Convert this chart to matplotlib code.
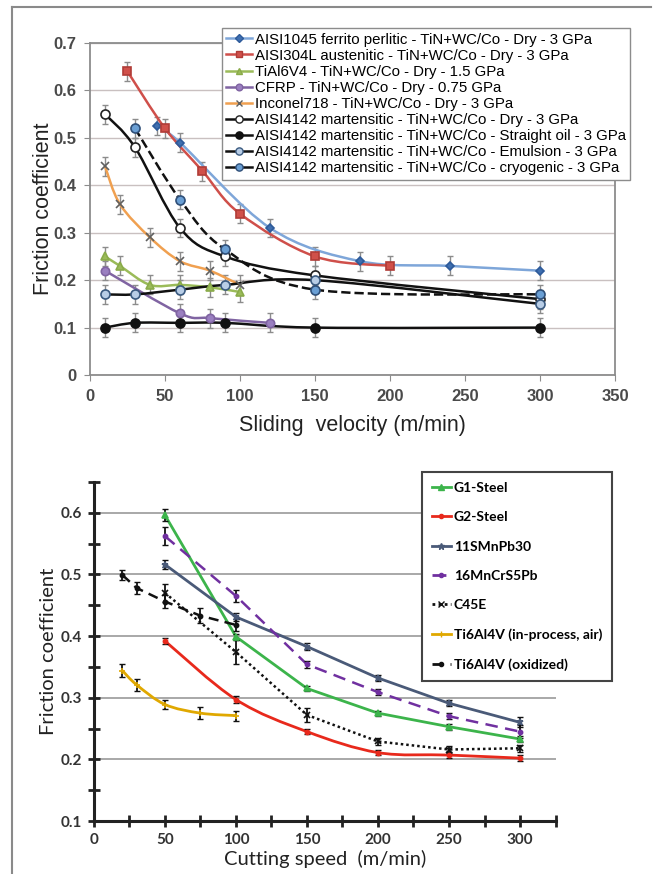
import numpy as np
import matplotlib
matplotlib.use("Agg")
import matplotlib.pyplot as plt
from matplotlib.path import Path
from matplotlib.patches import PathPatch
from matplotlib.lines import Line2D

plt.rcParams['font.family'] = ['Liberation Sans', 'DejaVu Sans']

# ---------------- top chart data (sliding velocity) ----------------
top_labels = [
    "AISI1045 ferrito perlitic - TiN+WC/Co - Dry - 3 GPa",
    "AISI304L austenitic - TiN+WC/Co - Dry - 3 GPa",
    "TiAl6V4 - TiN+WC/Co - Dry - 1.5 GPa",
    "CFRP - TiN+WC/Co - Dry - 0.75 GPa",
    "Inconel718 - TiN+WC/Co - Dry - 3 GPa",
    "AISI4142 martensitic - TiN+WC/Co - Dry - 3 GPa",
    "AISI4142 martensitic - TiN+WC/Co - Straight oil - 3 GPa",
    "AISI4142 martensitic - TiN+WC/Co - Emulsion - 3 GPa",
    "AISI4142 martensitic - TiN+WC/Co - cryogenic - 3 GPa",
]
aisi1045_v = [45, 60, 120, 180, 240, 300]
aisi1045_mu = [0.525, 0.49, 0.31, 0.24, 0.23, 0.22]
aisi304_v = [25, 50, 75, 100, 150, 200]
aisi304_mu = [0.64, 0.52, 0.43, 0.34, 0.25, 0.23]
tial_v = [10, 20, 40, 60, 80, 100]
tial_mu = [0.25, 0.23, 0.19, 0.19, 0.185, 0.175]
cfrp_v = [10, 60, 80, 120]
cfrp_mu = [0.22, 0.13, 0.12, 0.11]
inconel_v = [10, 20, 40, 60, 80, 100]
inconel_mu = [0.44, 0.36, 0.29, 0.24, 0.22, 0.19]
dry_v = [10, 30, 60, 90, 150, 300]
dry_mu = [0.55, 0.48, 0.31, 0.25, 0.21, 0.16]
oil_v = [10, 30, 60, 90, 150, 300]
oil_mu = [0.10, 0.11, 0.11, 0.11, 0.10, 0.10]
emul_v = [10, 30, 60, 90, 150, 300]
emul_mu = [0.17, 0.17, 0.18, 0.19, 0.20, 0.15]
cryo_v = [30, 60, 90, 150, 300]
cryo_mu = [0.52, 0.37, 0.265, 0.18, 0.17]
top_err = 0.02

# ---------------- bottom chart data (cutting speed) ----------------
bot_labels = ["G1-Steel", "G2-Steel", "11SMnPb30", "16MnCrS5Pb", "C45E",
              "Ti6Al4V (in-process, air)", "Ti6Al4V (oxidized)"]
steel_v = [50, 100, 150, 200, 250, 300]
g1_mu = [0.596, 0.399, 0.315, 0.275, 0.253, 0.233]
g1_err = [0.01, 0.005, 0.004, 0.004, 0.005, 0.005]
g2_mu = [0.392, 0.297, 0.245, 0.211, 0.207, 0.202]
g2_err = [0.005, 0.005, 0.004, 0.004, 0.005, 0.005]
smn_mu = [0.516, 0.431, 0.383, 0.332, 0.291, 0.26]
smn_err = [0.008, 0.006, 0.005, 0.005, 0.005, 0.008]
mncr_mu = [0.562, 0.465, 0.354, 0.309, 0.27, 0.245]
mncr_err = [0.015, 0.01, 0.005, 0.005, 0.005, 0.01]
c45_mu = [0.47, 0.374, 0.272, 0.229, 0.216, 0.218]
c45_err = [0.015, 0.02, 0.012, 0.006, 0.006, 0.006]
ti_v = [20, 30, 50, 75, 100]
tiair_mu = [0.344, 0.321, 0.289, 0.275, 0.271]
tiair_err = [0.01, 0.01, 0.008, 0.01, 0.008]
tiox_mu = [0.499, 0.478, 0.456, 0.433, 0.418]
tiox_err = [0.008, 0.01, 0.01, 0.012, 0.01]


def smooth_path(x, y):
    # excel-like smoothed line through the points (bezier segments)
    pts = np.column_stack([x, y]).astype(float)
    n = len(pts)
    verts = [pts[0]]
    codes = [Path.MOVETO]
    for i in range(n - 1):
        p0 = pts[max(i - 1, 0)]
        p1 = pts[i]
        p2 = pts[i + 1]
        p3 = pts[min(i + 2, n - 1)]
        verts += [p1 + (p2 - p0) / 6, p2 - (p3 - p1) / 6, p2]
        codes += [Path.CURVE4] * 3
    return Path(verts, codes)


fig = plt.figure(figsize=(6.54, 8.74), dpi=100)

# outer frame lines
fig.add_artist(Line2D([0.018, 0.018], [0, 0.992], color='#8a8a8a', lw=1.5, transform=fig.transFigure))
fig.add_artist(Line2D([0.018, 0.995], [0.992, 0.992], color='#8a8a8a', lw=1.5, transform=fig.transFigure))

# ================= top chart =================
ax = fig.add_axes([0.1376, 0.5709, 0.8028, 0.3799])

top_series = [
    (aisi1045_v, aisi1045_mu, '#7ea6d9', '-', 'D', '#3f6fb0', '#2d5a9a', 4.5),
    (aisi304_v, aisi304_mu, '#cf4f4a', '-', 's', '#d0504a', '#b03c37', 6),
    (tial_v, tial_mu, '#9bbb59', '-', '^', '#9bbb59', '#8aab4a', 6),
    (cfrp_v, cfrp_mu, '#8064a2', '-', 'o', '#9a7fc0', '#8064a2', 6),
    (inconel_v, inconel_mu, '#f0a050', '-', 'x', '#606060', '#606060', 6),
    (dry_v, dry_mu, '#111111', '-', 'o', 'white', '#222222', 6.5),
    (oil_v, oil_mu, '#111111', '-', 'o', '#111111', '#111111', 6.5),
    (emul_v, emul_mu, '#111111', '-', 'o', '#b8cde6', '#3a5a80', 6.5),
    (cryo_v, cryo_mu, '#111111', '--', 'o', '#6a9fd4', '#2f4f78', 6.5),
]

handles = []
for (xv, yv, lc, ls, mk, mfc, mec, ms), lab in zip(top_series, top_labels):
    ax.add_patch(PathPatch(smooth_path(xv, yv), fill=False, edgecolor=lc, lw=1.8, linestyle=ls, zorder=3))
    ax.errorbar(xv, yv, yerr=top_err, fmt='none', ecolor='#8c8c8c', elinewidth=1, capsize=2.5, zorder=2)
    ax.plot(xv, yv, linestyle='none', marker=mk, markersize=ms, markerfacecolor=mfc,
            markeredgecolor=mec, markeredgewidth=1.2, zorder=4)
    handles.append(Line2D([], [], color=lc, lw=1.8, linestyle='-',
                          marker=mk, markersize=ms * 0.8, markerfacecolor=mfc, markeredgecolor=mec))

ax.set_xlim(0, 350)
ax.set_ylim(0, 0.7)
ax.set_xticks(np.arange(0, 351, 50))
ax.set_yticks(np.arange(0, 0.71, 0.1))
ax.set_yticklabels(['0', '0.1', '0.2', '0.3', '0.4', '0.5', '0.6', '0.7'])
ax.yaxis.grid(True, color='#c9c0c0', lw=1)
ax.set_axisbelow(True)
for s in ax.spines.values():
    s.set_color('#8c8c8c')
    s.set_linewidth(1.3)
ax.tick_params(colors='#8c8c8c', labelcolor='#4a4a4a', labelsize=12, length=4, pad=6)
for t in ax.get_xticklabels() + ax.get_yticklabels():
    t.set_fontweight('bold')
ax.set_xlabel("Sliding  velocity (m/min)", fontsize=15.5, color='#222222', labelpad=8)
ax.set_ylabel("Friction coefficient", fontsize=15.5, color='#222222', labelpad=-1)
ax.legend(handles, top_labels, loc='upper left', bbox_to_anchor=(0.2514, 1.045), fontsize=10.8,
          handlelength=1.7, handletextpad=0.2, labelspacing=0.14, borderpad=0.3,
          fancybox=False, edgecolor='#8c8c8c', framealpha=1, borderaxespad=0)

# ================= bottom chart =================
bx = fig.add_axes([0.1437, 0.0606, 0.7057, 0.388])

bot_series = [
    (steel_v, g1_mu, g1_err, '#3cb44b', '-', '^', 4, False),
    (steel_v, g2_mu, g2_err, '#e8291c', '-', 'o', 3, True),
    (steel_v, smn_mu, smn_err, '#4a5a78', '-', '*', 5, False),
    (steel_v, mncr_mu, mncr_err, '#7030a0', (0, (5, 3)), 'o', 3, False),
    (steel_v, c45_mu, c45_err, '#111111', (0, (1, 1.2)), 'x', 4, False),
    (ti_v, tiair_mu, tiair_err, '#e0a800', '-', '+', 4, True),
    (ti_v, tiox_mu, tiox_err, '#111111', (0, (4, 2.5)), 'o', 3, False),
]

bhandles = []
for (xv, yv, ev, c, ls, mk, ms, smooth), lab in zip(bot_series, bot_labels):
    if smooth:
        bx.add_patch(PathPatch(smooth_path(xv, yv), fill=False, edgecolor=c, lw=2, linestyle=ls, zorder=3))
    else:
        bx.plot(xv, yv, color=c, lw=2 if ls == '-' else 1.8, linestyle=ls, zorder=3)
    bx.errorbar(xv, yv, yerr=ev, fmt='none', ecolor='#111111', elinewidth=1.3, capsize=2.5, zorder=4)
    bx.plot(xv, yv, linestyle='none', marker=mk, markersize=ms, color=c, markeredgewidth=1.2, zorder=5)
    bhandles.append(Line2D([], [], color=c, lw=2, linestyle=ls, marker=mk, markersize=ms))

bx.set_xlim(0, 325)
bx.set_ylim(0.1, 0.65)
bx.set_xticks(np.arange(0, 326, 25))
bx.set_xticklabels([str(v) if v % 50 == 0 else '' for v in range(0, 326, 25)])
bx.set_yticks(np.arange(0.1, 0.651, 0.05))
bx.set_yticklabels(['%.1f' % v if round(v * 100) % 10 == 0 else '' for v in np.arange(0.1, 0.651, 0.05)])
for gy in [0.2, 0.3, 0.4, 0.5, 0.6]:
    bx.axhline(gy, color='#9a9a9a', lw=1.2, zorder=1)
bx.spines['top'].set_visible(False)
bx.spines['right'].set_visible(False)
bx.spines['left'].set_linewidth(2.2)
bx.spines['bottom'].set_linewidth(2.2)
bx.spines['left'].set_color('#222222')
bx.spines['bottom'].set_color('#222222')
bx.tick_params(direction='inout', length=9, width=2, colors='#222222', labelcolor='#333333',
               labelsize=11, pad=4)
for t in bx.get_xticklabels() + bx.get_yticklabels():
    t.set_fontfamily('Lato')
    t.set_fontweight('bold')
bx.set_xlabel("Cutting speed  (m/min)", fontsize=14.5, family='Lato', color='#222222', labelpad=2)
bx.set_ylabel("Friction coefficient", fontsize=14.5, family='Lato', color='#222222', labelpad=3)
bx.legend(bhandles, bot_labels, loc='upper left', bbox_to_anchor=(0.7107, 1.029),
          prop={'family': 'Lato', 'weight': 'bold', 'size': 10}, handlelength=1.4,
          handletextpad=0.2, labelspacing=1.25, borderpad=0.7, fancybox=False,
          edgecolor='#444444', framealpha=1, borderaxespad=0).get_frame().set_linewidth(1.5)

fig.savefig("out.png", dpi=100)
